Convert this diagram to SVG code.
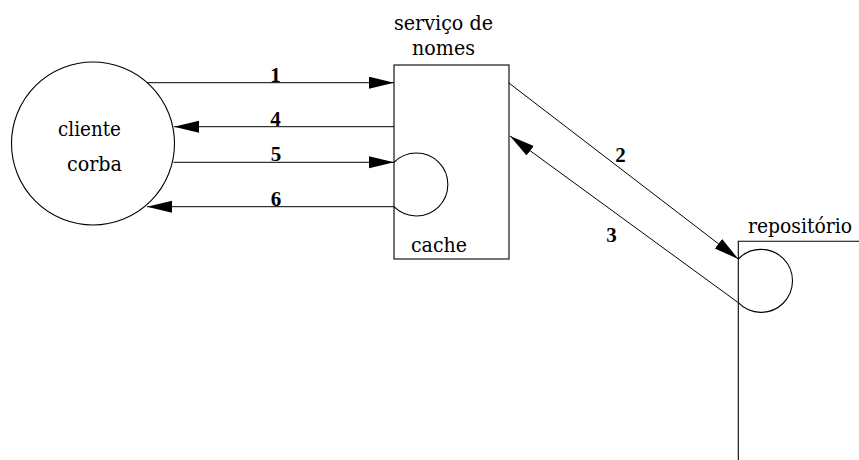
<svg xmlns="http://www.w3.org/2000/svg" width="859" height="460" viewBox="0 0 859 460">
  <style>
    .shape { fill: none; stroke: #000; stroke-width: 1.1; }
    .conn { fill: none; stroke: #000; stroke-width: 1; }
    .lbl { font-family: "DejaVu Serif", "Liberation Serif", serif; font-size: 20px; fill: #000; }
    .num { font-family: "Liberation Serif", "Times New Roman", serif; font-size: 21px; font-weight: bold; fill: #000; text-anchor: middle; }
  </style>
  <defs>
    <marker id="head" markerUnits="userSpaceOnUse" markerWidth="26" markerHeight="14" refX="25" refY="6" orient="auto">
      <path d="M0,0 L25,6 L0,12 z" fill="#000"/>
    </marker>
  </defs>

  <rect width="859" height="460" fill="#fff"/>

  <!-- client -->
  <g id="cliente">
    <circle class="shape" cx="93" cy="143.5" r="81.5"/>
    <text class="lbl" x="58" y="136" textLength="63" lengthAdjust="spacingAndGlyphs">cliente</text>
    <text class="lbl" x="67" y="170.5" textLength="55" lengthAdjust="spacingAndGlyphs">corba</text>
  </g>

  <!-- naming service with its cache -->
  <g id="servico-de-nomes">
    <rect class="shape" x="394" y="65" width="115" height="194"/>
    <text class="lbl" x="394" y="30" textLength="99" lengthAdjust="spacingAndGlyphs">serviço de</text>
    <text class="lbl" x="412" y="55" textLength="63" lengthAdjust="spacingAndGlyphs">nomes</text>
  </g>
  <g id="cache">
    <path class="shape" d="M394,162.3 A31.5,31.5 0 1 1 394,206.7"/>
    <text class="lbl" x="411" y="251.5" textLength="56" lengthAdjust="spacingAndGlyphs">cache</text>
  </g>

  <!-- repository -->
  <g id="repositorio">
    <path class="shape" d="M738.3,460 L738.3,241.3 L859,241.3" stroke-width="1.3"/>
    <path class="shape" d="M738.3,259 A31.5,31.5 0 1 1 738.3,302.7"/>
    <text class="lbl" x="748" y="232.5" textLength="104" lengthAdjust="spacingAndGlyphs">repositório</text>
  </g>

  <!-- numbered messages -->
  <g id="connectors">
    <line class="conn" x1="147" y1="82.7" x2="394" y2="82.7" marker-end="url(#head)"/>
    <line class="conn" x1="394" y1="126.7" x2="174" y2="126.7" marker-end="url(#head)"/>
    <line class="conn" x1="173.5" y1="162.3" x2="394" y2="162.3" marker-end="url(#head)"/>
    <line class="conn" x1="394" y1="206.7" x2="147" y2="206.7" marker-end="url(#head)"/>
    <line class="conn" x1="508.5" y1="82.7" x2="738.3" y2="259" marker-end="url(#head)"/>
    <line class="conn" x1="738.3" y1="302.7" x2="510" y2="136" marker-end="url(#head)"/>

    <text class="num" x="275.5" y="81.5">1</text>
    <text class="num" x="620.5" y="161.5">2</text>
    <text class="num" x="611.5" y="241.5">3</text>
    <text class="num" x="275.5" y="126">4</text>
    <text class="num" x="276" y="160.5">5</text>
    <text class="num" x="276" y="206">6</text>
  </g>
</svg>
